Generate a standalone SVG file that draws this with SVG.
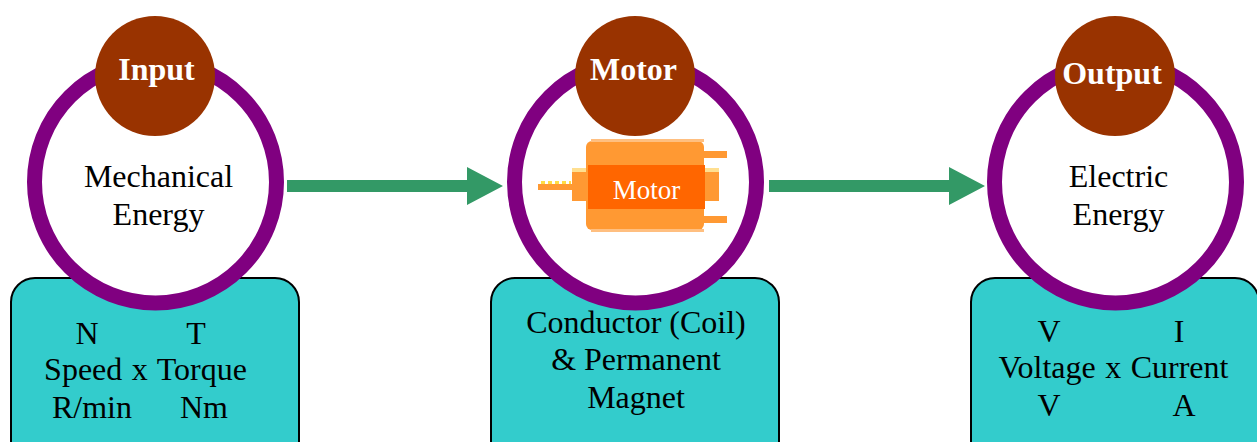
<svg xmlns="http://www.w3.org/2000/svg" width="1257" height="442" viewBox="0 0 1257 442">
<style>
text{font-family:"Liberation Serif","Times New Roman",serif;fill:#000;font-size:32px;text-anchor:middle}
.box{fill:#33cccc;stroke:#000;stroke-width:2}
.ring{fill:#fff;stroke:#800080;stroke-width:15}
.cap{fill:#993300}
.title{fill:#fff;font-weight:bold;font-size:32px}
.arrow{fill:#339966}
.metal{fill:#ff9933}
.shine{fill:#ffbf80}
.wide{word-spacing:1.500px}
</style>
<rect width="1257" height="442" fill="#fff"/>
<g id="input">
<rect class="box" x="11" y="278" width="288" height="190" rx="24"/>
<circle class="ring" cx="155.500" cy="182" r="121"/>
<circle class="cap" cx="155" cy="76" r="60"/>
<text class="title" x="156.500" y="80">Input</text>
<text x="158.500" y="187">Mechanical</text>
<text x="158.500" y="225">Energy</text>
<text x="87" y="344">N</text>
<text x="196" y="344">T</text>
<text class="wide" x="145.500" y="380">Speed x Torque</text>
<text x="92" y="418">R/min</text>
<text x="204" y="418">Nm</text>
</g>
<g id="motor">
<rect class="box" x="491" y="278" width="288" height="190" rx="24"/>
<circle class="ring" cx="635.500" cy="182" r="121"/>
<circle class="cap" cx="635" cy="76" r="60"/>
<text class="title" x="633.500" y="80">Motor</text>
<g id="motor-icon">
<rect class="metal" x="538" y="184" width="34" height="6"/>
<path d="M541 182.500H571" stroke="#ffdd44" stroke-width="3" stroke-dasharray="4 3" fill="none"/>
<rect class="metal" x="572" y="168" width="16" height="33"/>
<rect x="572" y="168" width="16" height="4" fill="#ffdf90"/>
<rect class="metal" x="704" y="151" width="23" height="7"/>
<rect class="metal" x="704" y="216" width="23" height="7"/>
<rect class="metal" x="704" y="168" width="15" height="33"/>
<rect x="704" y="168" width="15" height="4" fill="#ffdf90"/>
<rect class="metal" x="586" y="141" width="118" height="89" rx="6"/>
<rect class="shine" x="591" y="139" width="113" height="3"/>
<rect class="shine" x="591" y="229" width="113" height="3"/>
<rect x="588" y="165" width="117" height="44" fill="#ff6600"/>
<text x="646.500" y="199" style="fill:#fff;font-size:27px">Motor</text>
</g>
<text x="636" y="333">Conductor (Coil)</text>
<text x="636" y="370">&amp; Permanent</text>
<text x="636" y="408">Magnet</text>
</g>
<g id="output">
<rect class="box" x="971" y="278" width="288" height="190" rx="24"/>
<circle class="ring" cx="1115.500" cy="182" r="121"/>
<circle class="cap" cx="1115" cy="76" r="60"/>
<text class="title" x="1112" y="84">Output</text>
<text x="1118.500" y="187">Electric</text>
<text x="1118.500" y="225">Energy</text>
<text x="1049" y="342">V</text>
<text x="1179" y="342">I</text>
<text class="wide" x="1113.500" y="378">Voltage x Current</text>
<text x="1049" y="416">V</text>
<text x="1184" y="416">A</text>
</g>
<g id="connectors">
<path class="arrow" d="M287 180H467V167L503 186L467 205V192H287Z"/>
<path class="arrow" d="M769 180H949V167L985 186L949 205V192H769Z"/>
</g>
</svg>
